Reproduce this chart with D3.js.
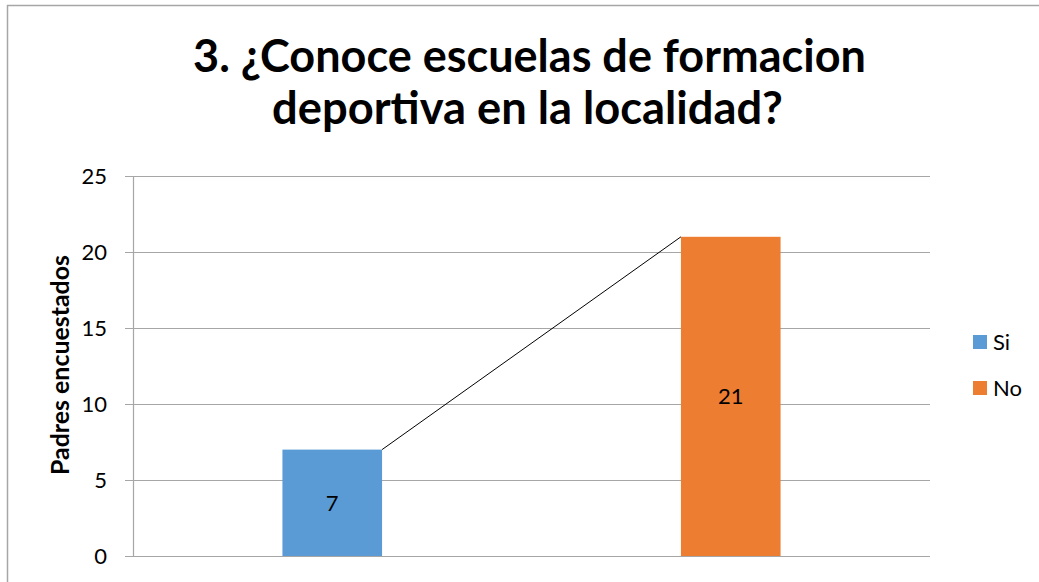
<!DOCTYPE html>
<html>
<head>
<meta charset="utf-8">
<script src="https://cdn.jsdelivr.net/npm/d3@7"></script>
<style>
  body { margin: 0; background: #fff; }
  svg { display: block; }
</style>
</head>
<body>
<script>
// chart data
const categories = ["Si", "No"];
const values = [7, 21];
const colors = ["#5B9BD5", "#ED7D31"];
const yTicks = [0, 5, 10, 15, 20, 25];
const titleLines = ["3. ¿Conoce escuelas de formacion", "deportiva en la localidad?"];
const yLabel = "Padres encuestados";

const width = 1039, height = 582;
const plot = { left: 133, right: 930, top: 176, bottom: 556 };
const font = "Lato, 'Open Sans', sans-serif";

const svg = d3.select("body").append("svg").attr("width", width).attr("height", height);

svg.append("rect").attr("x", 7.5).attr("y", 5.5).attr("width", 1040).attr("height", 600)
    .attr("fill", "#fff").attr("stroke", "#A6A6A6").attr("stroke-width", 1.5);

// fit a text element to a target width
function fitWidth(txt, size, target) {
    const w = txt.node().getComputedTextLength();
    txt.attr("font-size", size * target / w);
}

// title, sized to match the reference widths
const titleW = [673, 511], titleX = [529.5, 527.5], titleY = [72, 124];
titleLines.forEach((t, i) => {
    const txt = svg.append("text").attr("x", titleX[i]).attr("y", titleY[i])
        .attr("text-anchor", "middle").attr("font-family", font).attr("font-weight", "bold")
        .attr("font-size", 40).attr("fill", "#000").text(t);
    fitWidth(txt, 40, titleW[i]);
});

const x = d3.scaleBand().domain(categories).range([plot.left, plot.right])
    .paddingInner(0.75).paddingOuter(0.375);
const y = d3.scaleLinear().domain([0, 25]).range([plot.bottom, plot.top]);

// gridlines
svg.append("g").selectAll("line").data(yTicks).enter().append("line")
    .attr("x1", plot.left - 8).attr("x2", plot.right)
    .attr("y1", d => y(d) + 0.5).attr("y2", d => y(d) + 0.5)
    .attr("stroke", "#A6A6A6").attr("stroke-width", 1.2);

// y axis
svg.append("line").attr("x1", plot.left + 0.5).attr("x2", plot.left + 0.5)
    .attr("y1", plot.top).attr("y2", plot.bottom + 0.5)
    .attr("stroke", "#A6A6A6").attr("stroke-width", 1.2);

svg.append("g").selectAll("text").data(yTicks).enter().append("text")
    .attr("x", 107).attr("y", d => y(d)).attr("dy", "0.36em")
    .attr("text-anchor", "end").attr("font-family", font).attr("font-size", 22)
    .attr("fill", "#000").text(d => d);

const yl = svg.append("text").attr("transform", `translate(69, ${(plot.top + plot.bottom) / 2 - 1}) rotate(-90)`)
    .attr("text-anchor", "middle").attr("font-family", font).attr("font-weight", "bold")
    .attr("font-size", 18).attr("fill", "#000").text(yLabel);
fitWidth(yl, 18, 220);

// bars
const bars = svg.append("g").selectAll("g").data(categories).enter().append("g");
bars.append("rect")
    .attr("x", d => x(d)).attr("width", x.bandwidth())
    .attr("y", (d, i) => y(values[i])).attr("height", (d, i) => y(0) - y(values[i]))
    .attr("fill", (d, i) => colors[i]);
bars.append("text")
    .attr("x", d => x(d) + x.bandwidth() / 2)
    .attr("y", (d, i) => (y(values[i]) + y(0)) / 2).attr("dy", "0.36em")
    .attr("text-anchor", "middle").attr("font-family", font).attr("font-size", 22)
    .attr("fill", "#000").text((d, i) => values[i]);

// series line between bar tops
svg.append("line")
    .attr("x1", x(categories[0]) + x.bandwidth()).attr("y1", y(values[0]))
    .attr("x2", x(categories[1])).attr("y2", y(values[1]))
    .attr("stroke", "#000").attr("stroke-width", 1);

// legend
const legend = svg.append("g").selectAll("g").data(categories).enter().append("g")
    .attr("transform", (d, i) => `translate(973, ${335 + i * 46})`);
legend.append("rect").attr("width", 14).attr("height", 14).attr("fill", (d, i) => colors[i]);
legend.append("text").attr("x", 20).attr("y", 7).attr("dy", "0.36em")
    .attr("font-family", font).attr("font-size", 22).attr("fill", "#000").text(d => d);
</script>
</body>
</html>
